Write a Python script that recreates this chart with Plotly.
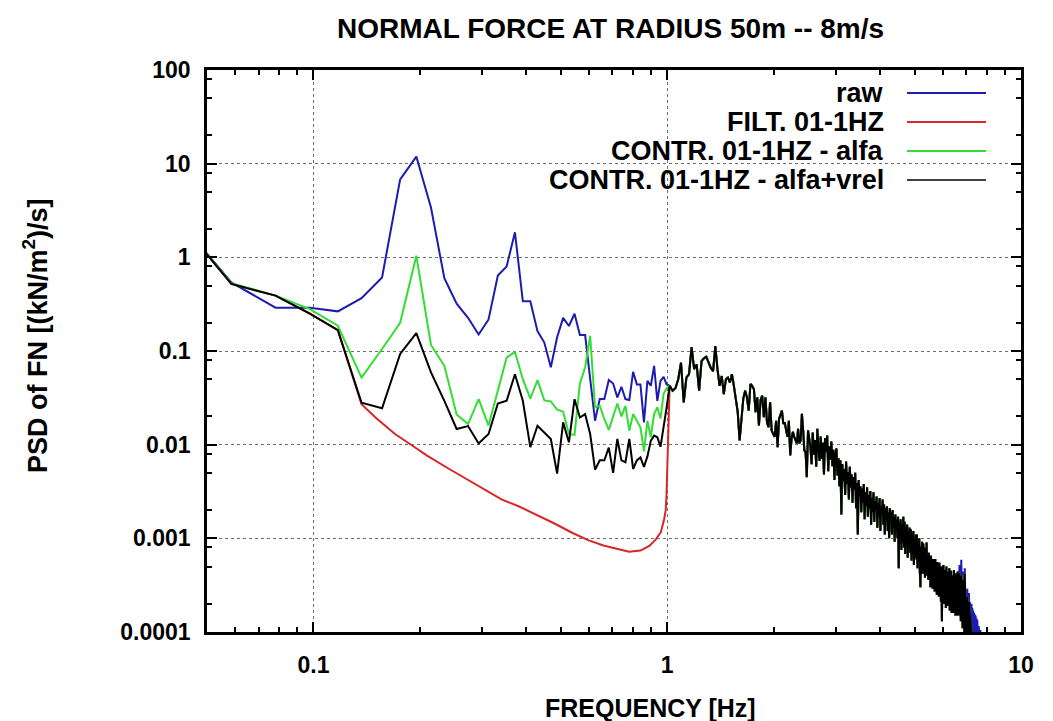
import numpy as np
import plotly.graph_objects as go

DF = 1 / 51.2  # spectral resolution [Hz]

# ---- spectral lines k = 2..51 (0.039 - 0.996 Hz) ----
raw_low = [3.3, 0.54, 0.29, 0.29, 0.265, 0.367, 0.61, 6.8, 11.9, 3.4,
           0.60, 0.32, 0.226, 0.150, 0.217, 0.64, 0.80, 1.85, 0.34, 0.34,
           0.163, 0.123, 0.067, 0.14, 0.226, 0.185, 0.25, 0.148, 0.148, 0.047,
           0.018, 0.0307, 0.0307, 0.049, 0.045, 0.032, 0.0415, 0.0307, 0.030, 0.060,
           0.044, 0.044, 0.0173, 0.048, 0.0425, 0.0695, 0.0294, 0.048, 0.053, 0.044]

alfa_low = [3.3, 0.53, 0.39, 0.28, 0.186, 0.052, 0.105, 0.20, 1.04, 0.116,
            0.0695, 0.021, 0.0166, 0.0307, 0.016, 0.038, 0.085, 0.098, 0.05, 0.031,
            0.049, 0.0297, 0.029, 0.0237, 0.0225, 0.013, 0.0127, 0.045, 0.0666, 0.145,
            0.025, 0.026, 0.0187, 0.0144, 0.020, 0.0275, 0.020, 0.026, 0.0141, 0.0212,
            0.018, 0.0153, 0.0085, 0.018, 0.012, 0.0212, 0.025, 0.019, 0.035, 0.040]

vrel_low = [3.3, 0.52, 0.39, 0.25, 0.167, 0.028, 0.0245, 0.093, 0.155, 0.059,
            0.0294, 0.0147, 0.0158, 0.0103, 0.013, 0.0275, 0.0294, 0.0565, 0.0294, 0.0094,
            0.0159, 0.0135, 0.0115, 0.0049, 0.0173, 0.0106, 0.0306, 0.0195, 0.0212, 0.013,
            0.0054, 0.0068, 0.0068, 0.0093, 0.005, 0.0115, 0.0068, 0.0065, 0.0115, 0.0055,
            0.0068, 0.0073, 0.0058, 0.0075, 0.011, 0.0125, 0.012, 0.0095, 0.015, 0.025]

# ---- filtered signal below 1 Hz ----
filt_freq = [0.0391, 0.0586, 0.0781, 0.0977, 0.1172,
             0.1367, 0.15, 0.17, 0.19, 0.21, 0.24, 0.27, 0.30, 0.34, 0.38,
             0.43, 0.48, 0.54, 0.60, 0.66, 0.72, 0.78, 0.84, 0.89, 0.93,
             0.96, 0.98, 0.99, 0.995, 1.0, 1.004, 1.008, 1.012]
filt_vals = [3.3, 0.52, 0.39, 0.25, 0.167,
             0.027, 0.0194, 0.0130, 0.0098, 0.0076, 0.0056, 0.0043, 0.00344, 0.0026, 0.0022,
             0.00177, 0.00144, 0.00114, 0.00095, 0.00084, 0.00077, 0.00072, 0.00074, 0.00083, 0.00098,
             0.00117, 0.0016, 0.002, 0.0028, 0.005, 0.008, 0.011, 0.018]

# ---- spectral lines from k = 52 upward, common to all signals ----
psd_hf = [0.0425, 0.0377, 0.040, 0.050, 0.075, 0.0283, 0.052, 0.0566, 0.110, 0.064,
          0.072, 0.0377, 0.078, 0.0836, 0.087, 0.075, 0.066, 0.061, 0.113, 0.064,
          0.0425, 0.054, 0.0347, 0.050, 0.052, 0.046, 0.0566, 0.0425, 0.032, 0.0222,
          0.0111, 0.0205, 0.031, 0.0377, 0.032, 0.0231, 0.0444, 0.0425, 0.039, 0.0222,
          0.032, 0.016, 0.030, 0.0333, 0.0196, 0.032, 0.0173, 0.0154, 0.0283, 0.0142,
          0.0131, 0.0121, 0.018, 0.0094, 0.0188, 0.0205, 0.0231, 0.0167, 0.0173, 0.0142,
          0.0121, 0.018, 0.0077, 0.0116, 0.0137, 0.0121, 0.0111, 0.0103, 0.0148, 0.0103,
          0.0111, 0.0213, 0.0142, 0.0087, 0.0083, 0.0045, 0.0142, 0.011,
          0.0095, 0.0062, 0.0135, 0.0078, 0.0112, 0.0058, 0.0148, 0.0089, 0.0067, 0.0122,
          0.0071, 0.0105, 0.0048, 0.0118, 0.0083, 0.0125, 0.0052, 0.0096, 0.0069, 0.0108,
          0.0059, 0.0088, 0.0042, 0.0079, 0.0091, 0.0047, 0.0072, 0.0036, 0.0068, 0.0018,
          0.0062, 0.0041, 0.0055, 0.0029, 0.0066, 0.0038, 0.0051, 0.0026, 0.0058, 0.0035,
          0.0048, 0.0024, 0.0045, 0.0033, 0.0050, 0.0021, 0.0039, 0.0011, 0.0042, 0.0028,
          0.0036, 0.0019, 0.0034, 0.0024, 0.0038, 0.0016, 0.0031, 0.0022, 0.0035, 0.0017,
          0.0029, 0.0021, 0.0032, 0.0014, 0.0027, 0.0019, 0.0031, 0.0015, 0.0025, 0.0020,
          0.0028, 0.0013, 0.0024, 0.0017, 0.0027, 0.0012, 0.0022, 0.0018, 0.0026, 0.0014,
          0.0023, 0.0011, 0.0021, 0.0016, 0.0022, 0.0012, 0.0019, 0.0010, 0.0021, 0.0015,
          0.0019, 0.0011, 0.0020, 0.0013, 0.0017, 0.00092, 0.0018, 0.0012, 0.0016, 0.0010,
          0.0017, 0.00048, 0.0015, 0.0011, 0.0016, 0.00075, 0.0014, 0.0009, 0.0017, 0.0008,
          0.0015, 0.00068, 0.0013, 0.00095, 0.0014, 0.00062, 0.0012, 0.00085, 0.0013, 0.0007,
          0.00125, 0.00058, 0.0011, 0.00078, 0.0012, 0.00052, 0.00098, 0.00072, 0.0011, 0.0006,
          0.0011, 0.00048, 0.00095, 0.00065, 0.001, 0.00045, 0.0003, 0.00082, 0.00058, 0.00092,
          0.00042, 0.00088, 0.00055, 0.0008, 0.00038, 0.00075, 0.0005, 0.0009, 0.0004, 0.00068,
          0.00036, 0.0007, 0.00045, 0.00062, 0.0003, 0.00065, 0.00042, 0.00058, 0.00029, 0.0006,
          0.00038, 0.00055, 0.00027, 0.0006, 0.00035, 0.0005, 0.00025, 0.00056, 0.00032, 0.00048,
          0.00024, 0.00055, 0.0003, 0.00045, 0.00021, 0.0005, 0.00013, 0.00042, 0.00028, 0.00052,
          0.0002, 0.00046, 0.00027, 0.0004, 0.00018, 0.0005, 0.00025, 0.00038, 0.00019, 0.00044,
          0.00026, 0.00048, 0.00017, 0.00036, 0.00024, 0.00045, 0.00016, 0.0004, 0.00022, 0.00034,
          0.00016, 0.00046, 0.00021, 0.00037, 0.00015, 0.00042, 0.00023, 0.00033, 0.00015, 0.00044,
          0.00022]

# ---- highest lines: raw signal and the processed signals differ slightly ----
raw_tail = [0.00045, 0.00018, 0.00052, 0.00024, 0.00038, 0.00016, 0.00059, 0.00021, 0.00034, 0.00014,
            0.00044, 0.00019, 0.0003, 0.00012, 0.00048, 0.00017, 0.00028, 0.00011, 0.00027, 0.00014,
            0.00029, 0.00012, 0.00024, 0.00013, 0.00026, 0.00011, 0.00021, 0.0001, 0.00019, 0.000105,
            0.0002, 0.000098, 0.00018, 0.000105, 0.00017, 0.000095, 0.00016, 0.0001, 0.000155, 0.00009,
            0.00015, 0.000095, 0.00014, 0.00009, 0.000135, 0.000085, 0.00012, 0.00008, 0.000115, 0.000078,
            0.00011, 0.000075, 0.000105, 0.00007, 0.000095, 0.000065]
ctrl_tail = [0.00038, 0.00015, 0.00043, 0.0002, 0.00032, 0.00013, 0.0004, 0.00018, 0.00028, 0.00011,
             0.00036, 0.00016, 0.00025, 0.0001, 0.00042, 0.00014, 0.00024, 0.000095, 0.00022, 0.00012,
             0.00024, 0.000098, 0.00019, 0.00011, 0.00021, 0.00009, 0.00016, 0.000085, 0.00014, 0.00008,
             0.00011, 0.00007]

# ---- frequency grids ----
f_low = (2 + np.arange(len(raw_low))) * DF
k_hf0 = 2 + len(raw_low)
f_hf = (k_hf0 + np.arange(len(psd_hf))) * DF
k_tail0 = k_hf0 + len(psd_hf)
f_raw_tail = (k_tail0 + np.arange(len(raw_tail))) * DF
f_ctrl_tail = (k_tail0 + np.arange(len(ctrl_tail))) * DF

BLUE = "#1c1cb0"
RED = "#d92626"
GREEN = "#33dd33"
BLACK = "#000000"
FONT = "Liberation Sans, Arial, sans-serif"

series = [
    ("raw", BLUE, 2,
     np.concatenate([f_low, f_hf, f_raw_tail]), np.concatenate([raw_low, psd_hf, raw_tail])),
    ("FILT. 01-1HZ", RED, 2,
     np.concatenate([filt_freq, f_hf, f_ctrl_tail]), np.concatenate([filt_vals, psd_hf, ctrl_tail])),
    ("CONTR. 01-1HZ - alfa", GREEN, 2,
     np.concatenate([f_low, f_hf, f_ctrl_tail]), np.concatenate([alfa_low, psd_hf, ctrl_tail])),
    ("CONTR. 01-1HZ - alfa+vrel", BLACK, 2,
     np.concatenate([f_low, f_hf, f_ctrl_tail]), np.concatenate([vrel_low, psd_hf, ctrl_tail])),
]

fig = go.Figure()
for name, color, width, fx, fy in series:
    fig.add_trace(go.Scatter(x=fx, y=fy, mode="lines", name=name,
                             line=dict(color=color, width=width), showlegend=False))

x_minor = [d * 10.0 ** e for e in (-2, -1, 0) for d in range(2, 10)]
y_minor = [d * 10.0 ** e for e in range(-4, 2) for d in (2, 5, 8)]

axis_common = dict(
    type="log", showline=True, linecolor="black", linewidth=2.5, mirror="allticks",
    ticks="inside", ticklen=10, tickwidth=2, tickcolor="black",
    showgrid=True, gridcolor="#707070", gridwidth=1, griddash="dot", zeroline=False,
    tickfont=dict(family=FONT, size=23, color="black", weight="bold"),
)
fig.update_xaxes(**axis_common, range=[np.log10(0.05), 1],
                 tickvals=[0.1, 1, 10], ticktext=["0.1", "1", "10"], ticklabelstandoff=11,
                 minor=dict(tickvals=x_minor, ticks="inside", ticklen=5, tickwidth=2,
                            tickcolor="black", showgrid=False))
fig.update_yaxes(**axis_common, range=[-4, 2],
                 tickvals=[1e-4, 1e-3, 1e-2, 0.1, 1, 10, 100],
                 ticktext=["0.0001", "0.001", "0.01", "0.1", "1", "10", "100"], ticklabelstandoff=9,
                 minor=dict(tickvals=y_minor, ticks="inside", ticklen=5, tickwidth=2,
                            tickcolor="black", showgrid=False))

# key box (opaque, hides the grid behind it)
fig.add_shape(type="rect", xref="paper", yref="paper", x0=0.29, x1=0.9705, y0=0.774, y1=1.0,
              fillcolor="white", line=dict(width=0), layer="between")

key_y = [0.959, 0.9075, 0.856, 0.8043]
for (name, color, width, _, _), ky in zip(series, key_y):
    fig.add_annotation(x=0.834, y=ky, xref="paper", yref="paper", text=name, showarrow=False,
                       xanchor="right", yanchor="middle",
                       font=dict(family=FONT, size=27, color="black", weight="bold"))
    fig.add_shape(type="line", xref="paper", yref="paper", x0=0.86, x1=0.957, y0=ky, y1=ky,
                  line=dict(color=color, width=2 if color != BLACK else 1.5))

fig.add_annotation(x=0.496, y=1.0747, xref="paper", yref="paper",
                   text="NORMAL FORCE AT RADIUS 50m -- 8m/s", showarrow=False,
                   xanchor="center", yanchor="middle",
                   font=dict(family=FONT, size=28, color="black", weight="bold"))
fig.add_annotation(x=0.545, y=-0.135, xref="paper", yref="paper",
                   text="FREQUENCY [Hz]", showarrow=False, xanchor="center", yanchor="middle",
                   font=dict(family=FONT, size=25, color="black", weight="bold"))
fig.add_annotation(x=-0.211, y=0.527, xref="paper", yref="paper",
                   text="PSD of FN [(kN/m<sup>2</sup>)/s]", showarrow=False, textangle=-90,
                   xanchor="center", yanchor="middle",
                   font=dict(family=FONT, size=27, color="black", weight="bold"))

fig.update_layout(
    width=1053, height=721, margin=dict(l=207, r=32, t=70, b=89),
    paper_bgcolor="white", plot_bgcolor="white", showlegend=False,
)

fig.write_html("out.html")
